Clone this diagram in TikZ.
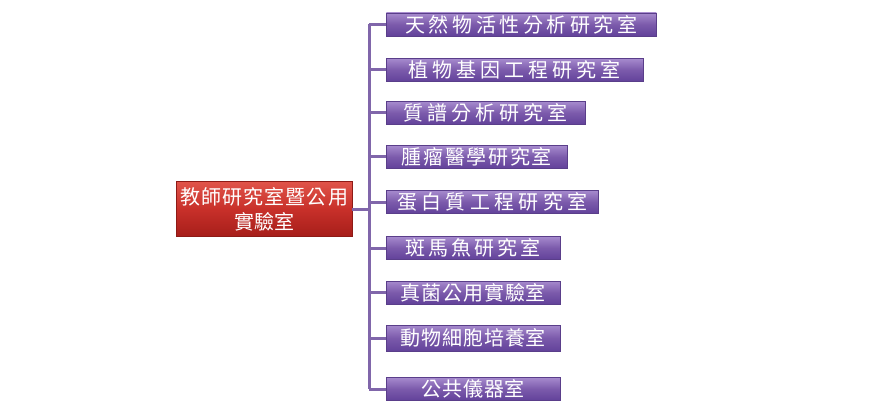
\documentclass[tikz,border=0pt]{standalone}
\usepackage{fontspec}
\newfontfamily\cjk{Noto Sans CJK TC}
\tikzset{
  x=1pt, y=-1pt,
  labbox/.style={draw=boxedge, line width=0.8pt, shading=axis,
    top color=boxtop, bottom color=boxbot, middle color=boxmid,
    minimum height=23pt, inner sep=0pt, anchor=west, text=white,
    font=\cjk\fontsize{20}{21}\selectfont},
  rootbox/.style={draw=rededge, line width=0.8pt, shading=axis,
    top color=redtop, bottom color=redbot, middle color=redmid,
    minimum width=176pt, minimum height=55pt, inner sep=0pt, text=white,
    font=\cjk\fontsize{20}{25}\selectfont, align=center},
  conn/.style={draw=linecol, line width=3pt}
}
\definecolor{boxtop}{HTML}{A68ACD}
\definecolor{boxmid}{HTML}{7B5AAB}
\definecolor{boxbot}{HTML}{62429A}
\definecolor{boxedge}{HTML}{5A3E8A}
\definecolor{redtop}{HTML}{E0544A}
\definecolor{redmid}{HTML}{C8302A}
\definecolor{redbot}{HTML}{A61E1A}
\definecolor{rededge}{HTML}{8E1A16}
\definecolor{linecol}{HTML}{8066AA}
\newcommand\spreadtxt[2]{\makebox[#1pt]{\spreadA#2\relax}}
\def\spreadA#1{#1\spreadB}
\def\spreadB#1{\ifx#1\relax\else\hfill#1\expandafter\spreadB\fi}
\begin{document}
\begin{tikzpicture}
\useasboundingbox (0,0) rectangle (881,409);
\node[rootbox] (root) at (264,209) {\spreadtxt{168}{教師研究室暨公用}\\\spreadtxt{58}{實驗室}};
\node[labbox, minimum width=270pt] (b1) at (386,24.5) {\spreadtxt{232}{天然物活性分析研究室}};
\node[labbox, minimum width=257pt] (b2) at (386,70) {\spreadtxt{212}{植物基因工程研究室}};
\node[labbox, minimum width=199pt] (b3) at (386,113) {\spreadtxt{164}{質譜分析研究室}};
\node[labbox, minimum width=181pt] (b4) at (386,157) {\spreadtxt{150}{腫瘤醫學研究室}};
\node[labbox, minimum width=212pt] (b5) at (386,202) {\spreadtxt{190}{蛋白質工程研究室}};
\node[labbox, minimum width=174pt] (b6) at (386,248) {\spreadtxt{135}{斑馬魚研究室}};
\node[labbox, minimum width=174pt] (b7) at (386,292.5) {\spreadtxt{145}{真菌公用實驗室}};
\node[labbox, minimum width=174pt, minimum height=26pt] (b8) at (386,338) {\spreadtxt{145}{動物細胞培養室}};
\node[labbox, minimum width=174pt] (b9) at (386,389) {\spreadtxt{103}{公共儀器室}};
\foreach \i in {1,...,9} {\coordinate (t\i) at (369,0 |- b\i.west);}
\draw[conn] (t1) -- (t9);
\draw[conn] (root.east) -- (root.east -| t1);
\foreach \i in {1,...,9} {\draw[conn] (t\i) -- (b\i.west);}
\end{tikzpicture}
\end{document}
